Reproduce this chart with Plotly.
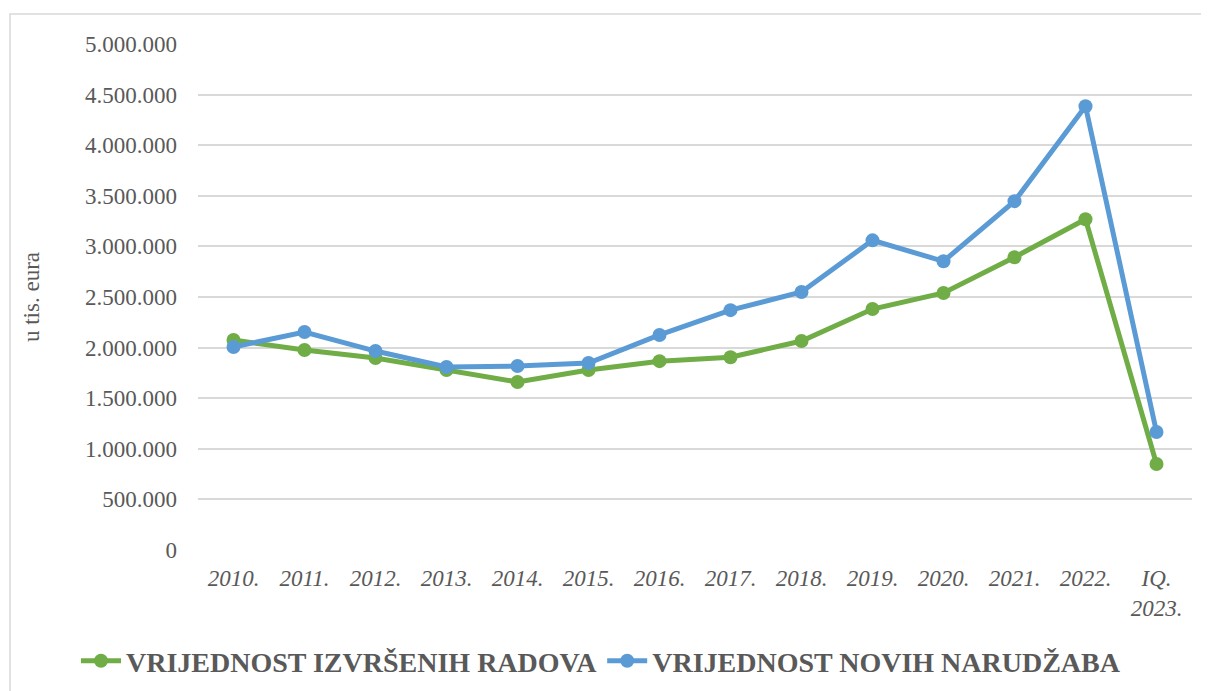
import plotly.graph_objects as go

categories = ["2010.", "2011.", "2012.", "2013.", "2014.", "2015.", "2016.",
              "2017.", "2018.", "2019.", "2020.", "2021.", "2022.", "IQ.<br>2023."]
izvrseni_radovi = [2075000, 1976000, 1897000, 1779000, 1660000, 1779000, 1866000,
                   1905000, 2065000, 2381000, 2540000, 2893000, 3268000, 850000]
nove_narudzbe = [2006000, 2154000, 1966000, 1808000, 1818000, 1848000, 2125000,
                 2370000, 2549000, 3060000, 2853000, 3447000, 4385000, 1166000]
y_ticks = [0, 500000, 1000000, 1500000, 2000000, 2500000, 3000000, 3500000,
           4000000, 4500000, 5000000]
y_tick_labels = ["0", "500.000", "1.000.000", "1.500.000", "2.000.000", "2.500.000",
                 "3.000.000", "3.500.000", "4.000.000", "4.500.000", "5.000.000"]

GREEN = "#70AD47"
BLUE = "#5B9BD5"
GRAY = "#595959"
FONT = "Liberation Serif, Times New Roman, serif"

W, H = 1201, 683
ML, MR, MT, MB = 190, 17, 36, 141
PW, PH = W - ML - MR, H - MT - MB

fig = go.Figure()
fig.add_trace(go.Scatter(
    x=categories, y=izvrseni_radovi, mode="lines+markers",
    name="VRIJEDNOST IZVRŠENIH RADOVA",
    line=dict(color=GREEN, width=5), marker=dict(color=GREEN, size=14)))
fig.add_trace(go.Scatter(
    x=categories, y=nove_narudzbe, mode="lines+markers",
    name="VRIJEDNOST NOVIH NARUDŽABA",
    line=dict(color=BLUE, width=5), marker=dict(color=BLUE, size=14)))

fig.update_layout(
    width=W, height=H,
    margin=dict(l=ML, r=MR, t=MT, b=MB, autoexpand=False),
    paper_bgcolor="white", plot_bgcolor="white",
    font=dict(family=FONT, color=GRAY, size=23),
    showlegend=True,
    legend=dict(orientation="h", x=(68 - ML) / PW, xanchor="left",
                y=-(653 - (H - MB)) / PH, yanchor="middle",
                font=dict(family=FONT, size=28, color=GRAY, weight="bold"),
                itemwidth=40, traceorder="normal", bgcolor="rgba(0,0,0,0)"),
    xaxis=dict(type="category", range=[-0.5, len(categories) - 0.5],
               showgrid=False, zeroline=False, showline=False,
               ticks="", tickfont=dict(family=FONT, size=23, color=GRAY, style="italic"),
               ticklabelstandoff=12),
    yaxis=dict(range=[0, 5000000], tickvals=y_ticks, ticktext=y_tick_labels,
               showgrid=True, gridcolor="#D9D9D9", gridwidth=1.5, zeroline=False,
               showline=False, ticks="", ticklabelstandoff=20,
               tickfont=dict(family=FONT, size=23, color=GRAY),
               title=dict(text="u tis. eura", font=dict(family=FONT, size=23, color=GRAY),
                          standoff=38)),
    shapes=[dict(type="rect", xref="paper", yref="paper",
                 x0=(2 - ML) / PW, x1=1 + 40 / PW, y0=-(MB + 20) / PH, y1=1 + (MT - 6) / PH,
                 line=dict(color="#D9D9D9", width=1.5), fillcolor="rgba(0,0,0,0)",
                 layer="below")],
)

fig.write_html("out.html")
